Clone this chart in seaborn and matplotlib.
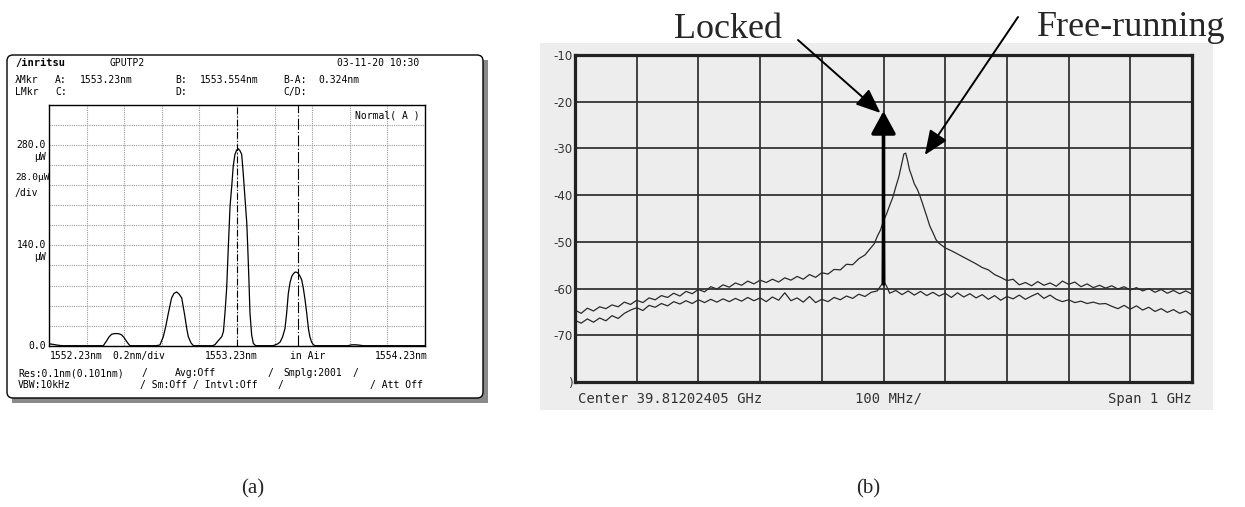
import numpy as np
import matplotlib
matplotlib.use("Agg")
import matplotlib.pyplot as plt
import matplotlib.transforms as mtransforms
from matplotlib.patches import FancyBboxPatch, Rectangle
import seaborn as sns

# ---------------- data: panel (a) optical spectrum ----------------
wl_a = [1552.23, 1552.24, 1552.26, 1552.28, 1552.30,
        1552.50, 1552.519, 1552.537, 1552.55, 1552.563,
        1552.577, 1552.590, 1552.604, 1552.617, 1552.630,
        1552.640, 1552.651, 1552.661, 1552.80, 1552.820,
        1552.838, 1552.852, 1552.865, 1552.882, 1552.895,
        1552.909, 1552.922, 1552.936, 1552.953, 1552.962,
        1552.971, 1552.985, 1552.998, 1553.10, 1553.113,
        1553.13, 1553.149, 1553.158, 1553.166, 1553.175,
        1553.184, 1553.193, 1553.202, 1553.210, 1553.219,
        1553.228, 1553.237, 1553.246, 1553.255, 1553.263,
        1553.273, 1553.282, 1553.287, 1553.293, 1553.299,
        1553.308, 1553.317, 1553.33, 1553.42, 1553.432,
        1553.446, 1553.459, 1553.472, 1553.485, 1553.494,
        1553.503, 1553.512, 1553.521, 1553.530, 1553.539,
        1553.548, 1553.556, 1553.565, 1553.574, 1553.583,
        1553.592, 1553.601, 1553.610, 1553.618, 1553.627,
        1553.636, 1553.645, 1553.82, 1553.84, 1553.86,
        1553.88, 1553.90, 1554.23]
pw_a = [2.5, 2.3, 1.5, 0.6, 0,
        0, 0, 7, 12.5, 16,
        16.8, 17, 16.5, 15, 11,
        7, 3, 0, 0, 1,
        12.6, 28, 45.6, 66.6, 73,
        75, 72, 66.6, 40.6, 25,
        12.6, 4, 0, 0, 1.5,
        7, 12.6, 20, 45.6, 80,
        138.6, 194.6, 222.6, 250.6, 267,
        273, 275, 272, 267, 241,
        204, 171, 138.6, 95, 45.6,
        15, 3, 0, 0, 1,
        2.5, 5, 12, 23.6, 45,
        73, 88, 96.6, 100.5, 102.7,
        102.5, 101, 97, 92, 80,
        64, 45, 23.6, 12, 5,
        1.5, 0, 0, 1.2, 1.3,
        0.8, 0, 0]
wl_start, wl_stop, wl_div = 1552.23, 1554.23, 0.2
pw_div = 28.0
pw_labels = [280.0, 140.0, 0.0]
marker_a, marker_b = 1553.23, 1553.554

# ---------------- data: panel (b) RF spectrum ----------------
freq_free = [-500, -490, -480, -470, -460, -450, -440, -430, -420, -410,
             -400, -390, -380, -370, -360, -350, -340, -330, -320, -310,
             -300, -290, -280, -270, -260, -250, -240, -230, -220, -210,
             -200, -190, -180, -170, -160, -150, -140, -130, -120, -110,
             -100, -90, -80, -70, -60, -50, -40, -30, -20, -15,
             -10, -5, 0, 5, 10, 15, 20, 25, 30, 33,
             36, 39, 42, 46, 50, 55, 60, 65, 70, 75,
             80, 85, 90, 95, 100, 110, 120, 130, 140, 150,
             160, 170, 180, 190, 200, 210, 220, 230, 240, 250,
             260, 270, 280, 290, 300, 310, 320, 330, 340, 350,
             360, 370, 380, 390, 400, 410, 420, 430, 440, 450,
             460, 470, 480, 490, 500]
db_free = [-64.6, -65.3, -64.2, -64.8, -63.9, -64.3, -63.5, -63.9, -62.9, -63.4,
           -62.5, -63.0, -62.0, -62.4, -61.5, -61.9, -61.0, -61.6, -60.6, -61.1,
           -60.2, -60.7, -59.6, -60.1, -59.2, -59.7, -58.8, -59.3, -58.4, -59.0,
           -58.2, -58.7, -58.0, -58.6, -57.7, -58.2, -57.4, -58.0, -57.0, -57.6,
           -56.6, -56.9, -55.9, -56.0, -54.8, -54.9, -53.6, -52.8, -51.2, -50.4,
           -48.8, -47.5, -45.5, -44.0, -42.2, -40.5, -38.2, -36.0, -33.0, -31.2,
           -31.0, -32.6, -34.5, -36.0, -37.6, -38.8, -40.5, -42.5, -44.5, -46.6,
           -48.0, -49.5, -50.3, -50.8, -51.3, -51.9, -52.6, -53.3, -54.0, -54.7,
           -55.5, -56.0, -57.0, -57.6, -58.3, -58.0, -59.2, -58.7, -59.4, -58.5,
           -59.3, -58.8, -59.5, -58.4, -59.1, -58.6, -59.6, -59.0, -59.8, -59.3,
           -59.9, -59.4, -60.1, -59.6, -60.3, -59.8, -60.5, -60.0, -60.8, -60.2,
           -61.0, -60.4, -61.1, -60.5, -61.2]
freq_lock = [-500, -490, -480, -470, -460, -450, -440, -430, -420, -410,
             -400, -390, -380, -370, -360, -350, -340, -330, -320, -310,
             -300, -290, -280, -270, -260, -250, -240, -230, -220, -210,
             -200, -190, -180, -170, -160, -150, -140, -130, -120, -110,
             -100, -90, -80, -70, -60, -50, -40, -30, -20, -10,
             -5, -2, 0, 2, 5,
             10, 20, 30, 40, 50, 60, 70, 80, 90, 100,
             110, 120, 130, 140, 150, 160, 170, 180, 190, 200,
             210, 220, 230, 240, 250, 260, 270, 280, 290, 300,
             310, 320, 330, 340, 350, 360, 370, 380, 390, 400,
             410, 420, 430, 440, 450, 460, 470, 480, 490, 500]
db_lock = [-66.8, -67.4, -66.5, -67.2, -66.3, -66.9, -65.8, -66.4, -65.3, -64.6,
           -64.1, -64.7, -63.6, -64.0, -63.2, -63.7, -62.8, -63.3, -62.6, -63.2,
           -62.4, -63.0, -62.3, -62.9, -62.2, -62.8, -62.1, -62.7, -61.9, -62.6,
           -62.0, -62.8, -61.8, -62.5, -60.9, -62.6, -62.0, -62.9, -61.7, -63.0,
           -62.3, -62.8, -61.9, -62.4, -61.6, -62.1, -61.2, -61.7, -60.8, -60.5,
           -59.5, -59.0, -22.0, -58.8, -59.5,
           -61.0, -60.4, -61.3, -60.5, -61.4, -60.6, -61.5, -60.8, -61.6, -61.0,
           -61.9, -60.9, -61.8, -61.1, -62.0, -61.3, -62.3, -61.5, -62.5, -61.7,
           -62.2, -61.4, -62.3, -61.6, -61.0, -62.1, -61.4, -62.3, -62.8, -62.4,
           -63.0, -62.7, -63.2, -62.9, -63.3, -63.2, -63.8, -64.3, -63.6, -64.4,
           -63.7, -64.6, -64.0, -64.9, -64.3, -65.1, -64.5, -65.3, -64.8, -65.8]
db_ticks = [-10, -20, -30, -40, -50, -60, -70]
db_top, db_bottom = -10, -80
span_mhz, div_mhz = 1000, 100
center_ghz = "39.81202405"

assert len(wl_a) == len(pw_a)
assert len(freq_free) == len(db_free)
assert len(freq_lock) == len(db_lock)

# ---------------- figure ----------------
sns.set_style("white")
plt.rcParams["font.family"] = ["DejaVu Sans"]
W, H = 1245, 507
fig = plt.figure(figsize=(W / 100, H / 100), dpi=100)
fig.patch.set_facecolor("white")
pix = mtransforms.IdentityTransform()


def fx(x):
    return x / W


def fy(y):
    return 1 - y / H


MONO = "DejaVu Sans Mono"

# ---- panel (a): instrument frame ----
fig.patches.append(Rectangle((12, H - 403), 476, 343, transform=pix,
                             facecolor="#8a8a8a", edgecolor="none", zorder=-2))
fig.patches.append(FancyBboxPatch((7, H - 398), 476, 343,
                                  boxstyle="round,pad=0,rounding_size=6",
                                  transform=pix, facecolor="white",
                                  edgecolor="black", lw=1.0, zorder=-1))

ax_a = fig.add_axes([fx(49), fy(345.7), 376 / W, 240.7 / H])
sns.lineplot(x=np.array(wl_a), y=np.array(pw_a), ax=ax_a, color="black",
             lw=0.9, estimator=None, sort=False)
ax_a.set_xlim(wl_start, wl_stop)
ax_a.set_ylim(0, pw_div * 12)
ax_a.set_xticks(np.arange(wl_start, wl_stop + 1e-6, wl_div))
ax_a.set_yticks(np.arange(0, pw_div * 12 + 1e-6, pw_div))
ax_a.grid(True, color="#9a9a9a", ls=(0, (1, 1)), lw=0.8)
ax_a.tick_params(length=0, labelbottom=False, labelleft=False)
ax_a.set_xlabel("")
ax_a.set_ylabel("")
ax_a.set_facecolor("white")
for s in ax_a.spines.values():
    s.set_color("black")
    s.set_linewidth(1.0)
ax_a.axvline(marker_a, color="black", lw=0.8, ls=(0, (6, 2, 1, 2)))
ax_a.axvline(marker_b, color="black", lw=0.8, ls=(0, (10, 2, 1, 2)))


def t(x, y, s, ha="left", size=7, weight="normal"):
    fig.text(fx(x), fy(y), s, ha=ha, va="center", family=MONO, size=size,
             weight=weight, color="black")


t(15, 63, "/inritsu", weight="bold", size=7.5)
t(110, 63, "GPUTP2")
t(337, 63, "03-11-20 10:30")
t(15, 80, "λMkr")
t(55, 80, "A:")
t(80, 80, f"{marker_a:.2f}nm")
t(175, 80, "B:")
t(200, 80, f"{marker_b:.3f}nm")
t(283, 80, "B-A:")
t(318, 80, f"{marker_b - marker_a:.3f}nm")
t(15, 92, "LMkr")
t(55, 92, "C:")
t(175, 92, "D:")
t(283, 92, "C/D:")
t(355, 115, "Normal( A )")
for v in pw_labels:
    yy = 345.7 - v / pw_div * 20.06
    t(46, yy, f"{v:.1f}", ha="right")
    if v > 0:
        t(46, yy + 12, "µW", ha="right")
t(15, 178, f"{pw_div:.1f}µW", size=6.8)
t(15, 193, "/div")
t(50, 356, f"{wl_start:.2f}nm")
t(112, 356, f"{wl_div:.1f}nm/div")
t(205, 356, f"{(wl_start + wl_stop) / 2:.2f}nm")
t(290, 356, "in Air")
t(375, 356, f"{wl_stop:.2f}nm")
t(18, 373, "Res:0.1nm(0.101nm)")
t(142, 373, "/")
t(175, 373, "Avg:Off")
t(268, 373, "/")
t(283, 373, "Smplg:2001")
t(353, 373, "/")
t(18, 385, "VBW:10kHz")
t(140, 385, "/ Sm:Off / Intvl:Off")
t(278, 385, "/")
t(370, 385, "/ Att Off")

# ---- panel (b): scanned analyzer screen ----
fig.patches.append(Rectangle((540, H - 410), 673, 367, transform=pix,
                             facecolor="#ededed", edgecolor="none", zorder=-2))

ax_b = fig.add_axes([fx(575), fy(382), 617 / W, 327 / H])
ax_b.set_facecolor("none")
sns.lineplot(x=np.array(freq_free), y=np.array(db_free), ax=ax_b,
             color="#2a2a2a", lw=0.9, estimator=None, sort=False)
sns.lineplot(x=np.array(freq_lock), y=np.array(db_lock), ax=ax_b,
             color="#2a2a2a", lw=0.9, estimator=None, sort=False)
ax_b.set_xlim(-span_mhz / 2, span_mhz / 2)
ax_b.set_ylim(db_bottom, db_top)
ax_b.set_xticks(np.arange(-span_mhz / 2, span_mhz / 2 + 1, div_mhz))
ax_b.set_yticks(db_ticks + [db_bottom])
ax_b.set_yticklabels([str(v) for v in db_ticks] + [")"])
ax_b.grid(True, color="#333333", lw=1.3)
ax_b.tick_params(length=0, labelbottom=False, labelsize=8.5,
                 labelcolor="#333333", pad=2)
ax_b.set_xlabel("")
ax_b.set_ylabel("")
for s in ax_b.spines.values():
    s.set_color("#222222")
    s.set_linewidth(2.3)

# locked carrier marker (thick bar with arrowhead at the peak)
ipk = int(np.argmax(db_lock))
ax_b.annotate("", xy=(freq_lock[ipk], db_lock[ipk]),
              xytext=(freq_lock[ipk], db_lock[ipk - 1]),
              arrowprops=dict(arrowstyle="-|>,head_length=0.55,head_width=0.3",
                              mutation_scale=25, lw=2.6, color="black",
                              shrinkA=0, shrinkB=0))

fig.text(fx(578), fy(399), f"Center {center_ghz} GHz", ha="left", va="center",
         family=MONO, size=10, color="#333333")
fig.text(fx(855), fy(399), f"{div_mhz} MHz/", ha="left", va="center",
         family=MONO, size=10, color="#333333")
fig.text(fx(1192), fy(399), f"Span {span_mhz // 1000} GHz", ha="right",
         va="center", family=MONO, size=10, color="#333333")

# annotations
SERIF = "Liberation Serif"
fig.text(fx(728), fy(37.5), "Locked", ha="center", va="baseline",
         family=SERIF, size=26)
fig.text(fx(1037), fy(36), "Free-running", ha="left", va="baseline",
         family=SERIF, size=26)
arrow_kw = dict(arrowstyle="-|>,head_length=0.6,head_width=0.25",
                mutation_scale=25, lw=1.4, color="black", shrinkA=0, shrinkB=0)
ax_b.annotate("", xy=(-5, -22.4), xycoords="data",
              xytext=(798, H - 40), textcoords="figure pixels",
              arrowprops=arrow_kw)
ax_b.annotate("", xy=(67, -31.4), xycoords="data",
              xytext=(1018, H - 17), textcoords="figure pixels",
              arrowprops=arrow_kw)

fig.text(fx(253), fy(489), "(a)", ha="center", va="center", family=SERIF, size=15)
fig.text(fx(868), fy(489), "(b)", ha="center", va="center", family=SERIF, size=15)

fig.savefig("out.png", dpi=100, facecolor="white")
